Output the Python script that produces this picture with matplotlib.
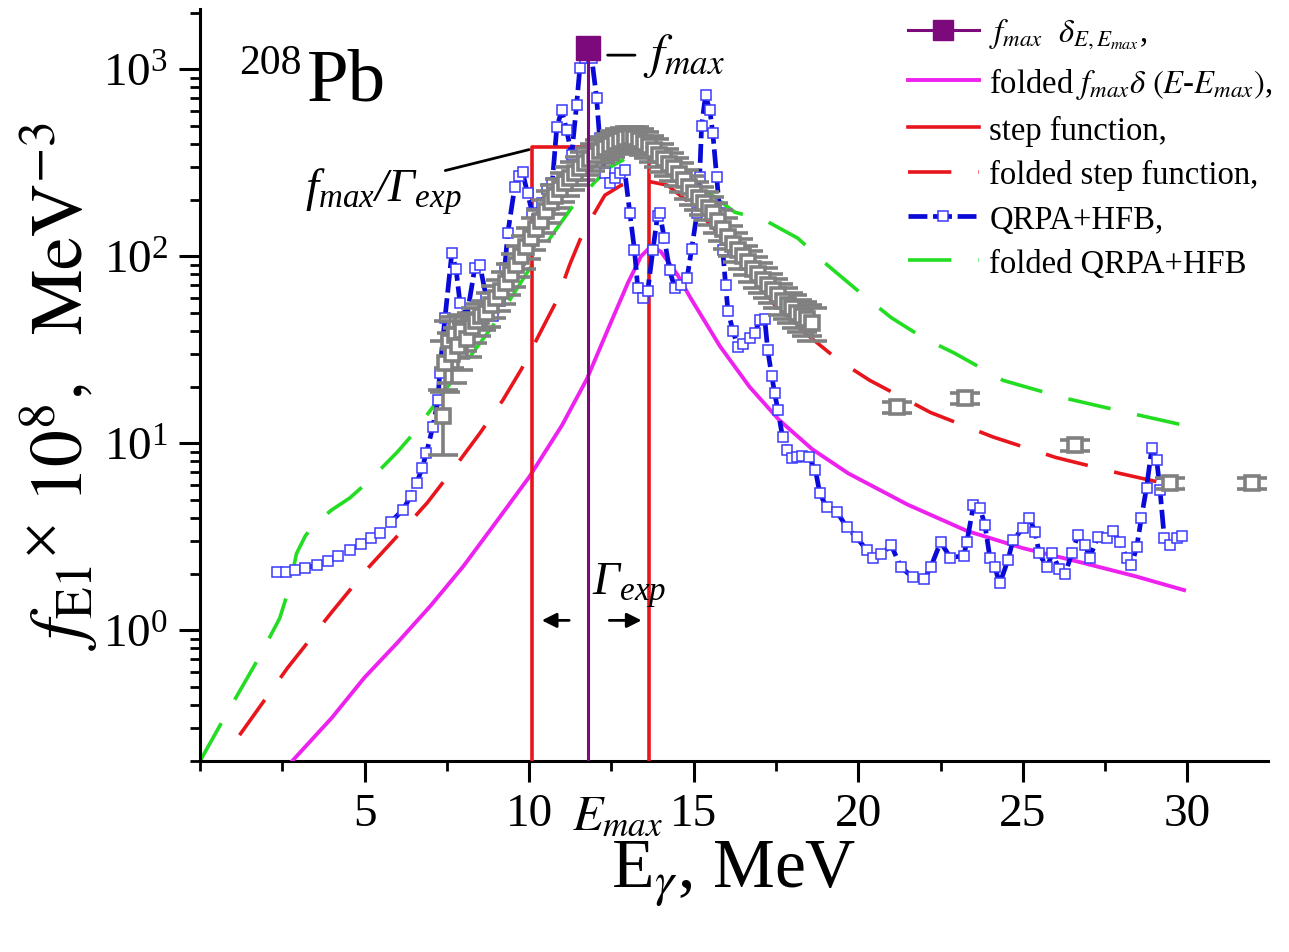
import matplotlib
matplotlib.use("Agg")
import matplotlib.pyplot as plt
from matplotlib.lines import Line2D
from matplotlib.ticker import LogLocator, MultipleLocator, NullFormatter

plt.rcParams["font.family"] = "serif"
plt.rcParams["font.serif"] = ["Liberation Serif", "DejaVu Serif"]
plt.rcParams["mathtext.fontset"] = "stix"
# used only by texts with math_fontfamily="custom" (italic capital Gamma)
plt.rcParams["mathtext.rm"] = "Liberation Serif:italic"
plt.rcParams["mathtext.it"] = "Liberation Serif:italic"

# delta peak and step function
e_max = 11.8
f_max = 1300.0
step_e = [10.1, 10.1, 13.65, 13.65]
step_y = [0.1, 383.0, 383.0, 0.1]

# folded delta (Lorentzian-like) curve
mag_e = [2.8, 4.0, 5.0, 6.0, 7.0, 8.0, 9.0, 10.0, 11.0, 11.75, 12.5, 13.0, 13.4,
         13.7, 14.0, 14.5, 14.9, 15.8, 16.7, 17.6, 18.6, 19.7, 21.5, 23.3, 25.0,
         26.8, 28.4, 29.9]
mag_y = [0.2, 0.34, 0.56, 0.86, 1.35, 2.2, 3.8, 6.6, 12.5, 22, 45, 72, 100,
         113, 106, 80, 60, 33, 20, 13.3, 9.3, 6.9, 4.7, 3.4, 2.75,
         2.3, 1.95, 1.64]

# folded step function
red_e = [1.2, 2.66, 4.0, 5.1, 6.0, 6.9, 7.7, 8.5, 9.2, 9.77, 10.3, 10.84, 11.23,
         11.63, 12.3, 12.8, 13.2, 13.6, 14.2, 15.0, 16.0, 17.0, 17.6, 18.4, 19.4,
         20.35, 22.2, 24.1, 26.0, 27.95, 29.87]
red_y = [0.275, 0.63, 1.25, 2.15, 3.2, 4.8, 7.3, 11.3, 17, 25, 38, 58, 90,
         133, 212, 240, 252, 252, 240, 185, 118, 70, 51, 38.7, 27.8,
         21.7, 14.6, 10.8, 8.4, 6.9, 5.8]

# folded QRPA+HFB
green_e = [0.0, 0.65, 1.8, 2.42, 2.66, 2.8, 2.93, 3.2, 3.48, 4.0, 4.55, 5.0, 5.46,
           6.0, 6.43, 7.07, 8.0, 9.0, 10.0, 10.7, 11.3, 12.0, 12.45, 13.27, 13.8,
           14.5, 15.3, 16.25, 17.16, 18.16, 19.07, 20.1, 21.0, 22.0, 22.93, 24.4,
           26.3, 28.25, 29.8]
green_y = [0.2, 0.32, 0.72, 1.16, 1.58, 2.0, 2.57, 3.2, 3.7, 4.4, 5.1, 6.0, 7.2,
           9.0, 11, 15.6, 26, 45, 85, 130, 183, 250, 299, 360, 355,
           310, 230, 172, 156, 125, 89.5, 63, 47, 36.4, 30.3, 21.7,
           17.4, 14.5, 12.6]

# QRPA+HFB
qrpa_e = [2.33, 2.6, 2.9, 3.2, 3.54, 3.9, 4.2, 4.55, 4.9, 5.2, 5.46, 5.8, 6.16,
          6.4, 6.58, 6.75, 6.88, 7.07, 7.23, 7.28, 7.44, 7.65, 7.78, 7.9, 8.1,
          8.35, 8.5, 8.7, 8.9, 9.1, 9.26, 9.35, 9.56, 9.7, 9.8, 9.95, 10.1, 10.23,
          10.38, 10.55, 10.7, 10.84, 10.99, 11.14, 11.29, 11.44, 11.54, 11.69,
          11.9, 12.05, 12.14, 12.29, 12.45, 12.6, 12.75, 12.9, 13.06, 13.2, 13.3,
          13.45, 13.6, 13.76, 13.9, 13.97, 14.1, 14.27, 14.42, 14.6, 14.8, 14.94,
          15.1, 15.18, 15.24, 15.36, 15.49, 15.58, 15.7, 15.79, 15.88, 15.97,
          16.04, 16.19, 16.35, 16.5, 16.7, 16.86, 17.0, 17.16, 17.25, 17.37,
          17.46, 17.56, 17.7, 17.83, 18.0, 18.15, 18.3, 18.5, 18.7, 18.83, 19.04,
          19.35, 19.65, 19.95, 20.26, 20.44, 20.7, 21.0, 21.3, 21.66, 22.0, 22.2,
          22.5, 22.8, 23.2, 23.3, 23.5, 23.7, 23.85, 24.0, 24.15, 24.3, 24.55,
          24.7, 25.0, 25.2, 25.37, 25.5, 25.73, 25.9, 26.1, 26.28, 26.5, 26.67,
          26.9, 27.03, 27.28, 27.55, 27.74, 27.95, 28.16, 28.3, 28.46, 28.6,
          28.76, 28.92, 29.07, 29.17, 29.3, 29.47, 29.7, 29.85]
qrpa_y = [2.04, 2.06, 2.1, 2.15, 2.23, 2.35, 2.5, 2.68, 2.9, 3.1, 3.3, 3.8, 4.4,
          5.2, 6.1, 7.4, 8.9, 12.2, 17, 23.7, 46.5, 104, 85, 56, 47,
          87, 90, 60, 48, 58, 87, 133, 234, 270, 282, 217, 170, 158,
          192, 230, 245, 490, 603, 472, 347, 641, 1012, 1150,
          1150, 700, 430, 278, 245, 262, 278, 290, 170, 108, 68,
          60, 65, 108, 165, 170, 126, 84, 68, 70, 77, 110,
          170, 264, 500, 726, 603, 455, 264, 170, 108, 70,
          51, 40, 32.6, 34, 36.4, 38.7, 45.5, 46, 31.4, 23,
          18.5, 15, 10.8, 9.2, 8.3, 8.4, 8.6, 8.4, 7.2, 5.4, 4.55,
          4.3, 3.56, 3.14, 2.68, 2.43, 2.55, 2.85, 2.17, 1.92, 1.87, 2.17,
          2.96, 2.45, 2.5, 2.96, 4.66, 4.5, 3.64, 2.45, 2.17, 1.78, 2.38,
          3.03, 3.51, 4.0, 3.36, 2.58, 2.17, 2.58, 2.13, 2.0, 2.6, 3.22,
          2.85, 2.45, 3.15, 3.1, 3.4, 2.96, 2.43, 2.23, 2.78, 3.97,
          5.8, 9.4, 8.1, 5.6, 3.1, 2.85, 3.1, 3.2]

# experimental points
exp_e = [7.37, 7.45, 7.55, 7.65, 7.75, 7.85, 7.95, 8.1, 8.25, 8.4, 8.55, 8.7, 8.85,
         9.0, 9.15, 9.3, 9.45, 9.6, 9.75, 9.9, 10.05, 10.2, 10.35, 10.5, 10.65,
         10.8, 10.95, 11.1, 11.25, 11.4, 11.55, 11.7, 11.85, 12.0, 12.15, 12.3,
         12.45, 12.6, 12.75, 12.9, 13.05, 13.2, 13.35, 13.5, 13.65, 13.8, 13.95,
         14.1, 14.25, 14.4, 14.55, 14.7, 14.85, 15.0, 15.15, 15.3, 15.45, 15.6,
         15.75, 15.9, 16.05, 16.2, 16.35, 16.5, 16.65, 16.8, 16.95, 17.1, 17.25,
         17.4, 17.55, 17.7, 17.85, 18.0, 18.15, 18.3, 18.45, 18.6,
         21.17, 23.24, 26.58, 29.47, 31.96]
exp_y = [14, 27, 35, 30, 38, 33, 40, 36, 42, 45, 48, 50, 55,
         60, 65, 72, 80, 90, 100, 112, 125, 140, 155, 175, 195,
         210, 228, 245, 262, 280, 298, 315, 332, 350, 365, 380,
         395, 408, 418, 428, 432, 430, 420, 405, 388, 370, 350,
         330, 312, 295, 275, 255, 235, 218, 205, 193, 182, 170,
         155, 140, 127, 117, 108, 100, 93, 86, 80, 75, 70,
         66, 62, 58, 55, 53, 50, 48, 46, 44,
         15.6, 17.4, 9.75, 6.1, 6.1]
exp_rel_err = [0.38, 0.3, 0.28, 0.3, 0.25, 0.25, 0.22, 0.2, 0.18, 0.17, 0.16, 0.16, 0.15,
               0.15, 0.15, 0.14, 0.14, 0.14, 0.14, 0.14, 0.14, 0.14, 0.14, 0.14, 0.14,
               0.14, 0.14, 0.14, 0.14, 0.14, 0.14, 0.14, 0.14, 0.14, 0.14, 0.14,
               0.14, 0.14, 0.14, 0.14, 0.14, 0.14, 0.14, 0.14, 0.14, 0.14, 0.14,
               0.14, 0.14, 0.14, 0.14, 0.14, 0.14, 0.14, 0.14, 0.14, 0.14, 0.14,
               0.14, 0.14, 0.14, 0.14, 0.14, 0.14, 0.15, 0.15, 0.15, 0.15, 0.15,
               0.15, 0.15, 0.16, 0.16, 0.17, 0.17, 0.18, 0.19, 0.2,
               0.07, 0.07, 0.07, 0.07, 0.07]

purple = "#7d0a7d"
magenta = "#ee22ee"
red = "#e8161c"
green = "#22dd22"
blue = "#0a0ad8"
gray = "#808080"

fig = plt.figure(figsize=(12.89, 9.53), dpi=100)
ax = fig.add_axes([0.1552, 0.2004, 0.8285, 0.7891])

ax.plot(green_e, green_y, color=green, lw=2.6, dashes=(12, 7.5), zorder=2)
ax.plot(red_e, red_y, color=red, lw=2.6, dashes=(12, 7.5), zorder=2)
ax.plot(mag_e, mag_y, color=magenta, lw=2.8, zorder=3)
ax.plot(step_e, step_y, color=red, lw=2.6, zorder=3)
ax.plot(qrpa_e, qrpa_y, color=blue, lw=3.4, dashes=(4, 1.2), marker="s", ms=6.5,
        mfc="white", mec="#3a3aff", mew=1.1, zorder=4)
err = [[y * r for y, r in zip(exp_y, exp_rel_err)],
       [y * r for y, r in zip(exp_y, exp_rel_err)]]
ax.errorbar(exp_e, exp_y, yerr=err, fmt="s", ms=10, mfc="white", mec=gray, mew=2.6,
            ecolor=gray, elinewidth=2.6, capsize=11, capthick=2.6, zorder=5)
ax.plot([e_max, e_max], [0.1, f_max], color=purple, lw=2.2, zorder=6)
ax.plot([e_max], [f_max], marker="s", ms=17, color=purple, ls="none", zorder=7)

ax.set_xlim(0, 32.45)
ax.set_ylim(0.2, 2100)
ax.set_yscale("log")

for side in ("top", "right"):
    ax.spines[side].set_visible(False)
for side in ("left", "bottom"):
    ax.spines[side].set_linewidth(2.2)

ax.set_xticks([5, 10, 15, 20, 25, 30])
ax.xaxis.set_minor_locator(MultipleLocator(2.5))
ax.yaxis.set_major_locator(LogLocator(base=10, numticks=10))
ax.yaxis.set_minor_locator(LogLocator(base=10, subs=range(2, 10), numticks=20))
ax.yaxis.set_minor_formatter(NullFormatter())
ax.tick_params(which="major", direction="out", length=15, width=2.2, labelsize=34, pad=8)
ax.tick_params(which="minor", direction="out", length=7.5, width=2.0)

ax.set_xlabel(r"E$_{\gamma}$, MeV", fontsize=50, labelpad=2)
ax.set_ylabel(r"$f_{\mathrm{E1}}{}^{\times}\ \mathrm{10}^{\mathrm{8}},\ \ \mathrm{MeV}^{\mathrm{-3}}$",
              fontsize=53, labelpad=2)

ax.text(0.037, 0.915, "208", transform=ax.transAxes, fontsize=30, va="baseline")
ax.text(0.1, 0.88, "Pb", transform=ax.transAxes, fontsize=54, va="baseline")

ax.annotate("", xy=(10.08, 375), xytext=(7.37, 285),
            arrowprops=dict(arrowstyle="-", lw=2, color="black"))
ax.text(3.18, 225, r"$f_{max}/\Gamma_{exp}$", fontsize=34, va="center", ha="left",
        math_fontfamily="custom")

ax.annotate("", xy=(12.3, 1190), xytext=(13.3, 1190),
            arrowprops=dict(arrowstyle="-", lw=2, color="black"), zorder=8)
ax.text(13.45, 1190, r"$f_{max}$", fontsize=36, va="center", ha="left")

ax.text(11.9, 1.74, r"$\Gamma_{exp}$", fontsize=34, va="center", ha="left",
        math_fontfamily="custom")
ax.annotate("", xy=(10.3, 1.13), xytext=(11.3, 1.13),
            arrowprops=dict(arrowstyle="-|>", lw=2, color="black", mutation_scale=22))
ax.annotate("", xy=(13.5, 1.13), xytext=(12.35, 1.13),
            arrowprops=dict(arrowstyle="-|>", lw=2, color="black", mutation_scale=22))

ax.text(11.3, -0.09, r"$E_{max}$", transform=ax.get_xaxis_transform(),
        fontsize=36, va="baseline", ha="left")

handles = [
    Line2D([], [], color=purple, lw=2.2, marker="s", ms=15),
    Line2D([], [], color=magenta, lw=2.8),
    Line2D([], [], color=red, lw=2.6),
    Line2D([], [], color=red, lw=2.6, dashes=(12, 7.5)),
    Line2D([], [], color=blue, lw=3.4, dashes=(4, 1.2), marker="s", ms=6.5,
           mfc="white", mec="#3a3aff", mew=1.1),
    Line2D([], [], color=green, lw=2.6, dashes=(12, 7.5)),
]
labels = [
    r"$f_{max}\ \ \delta_{E,E_{max}}$,",
    r"folded $f_{max}\delta\ (E$-$E_{max})$,",
    "step function,",
    "folded step function,",
    "QRPA+HFB,",
    "folded QRPA+HFB",
]
ax.legend(handles, labels, loc="upper left", bbox_to_anchor=(0.6625, 0.99),
          frameon=False, fontsize=23.5, handlelength=2.2, handletextpad=0.3,
          labelspacing=0.42, borderaxespad=0, borderpad=0, numpoints=1)

fig.savefig("out.png", dpi=100)
